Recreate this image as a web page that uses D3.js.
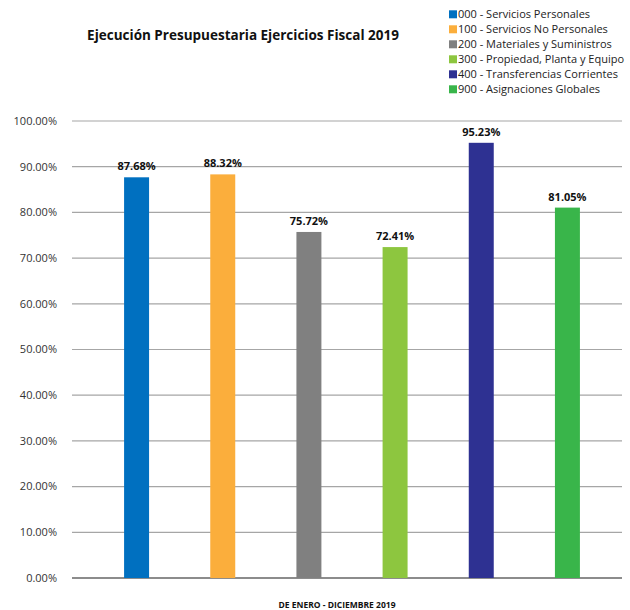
<!DOCTYPE html>
<html>
<head>
<meta charset="utf-8">
<title>Ejecución Presupuestaria</title>
<script src="https://d3js.org/d3.v7.min.js"></script>
<style>
  body { margin: 0; background: #fff; }
  text { font-family: "Open Sans", sans-serif; }
</style>
</head>
<body>
<div id="chart"></div>
<script>
// data
var categories = ["000 - Servicios Personales", "100 - Servicios No Personales", "200 - Materiales y Suministros",
                  "300 - Propiedad, Planta y Equipo", "400 - Transferencias Corrientes", "900 - Asignaciones Globales"];
var values = [87.68, 88.32, 75.72, 72.41, 95.23, 81.05];
var colors = ["#0070C0", "#FBAE3C", "#808080", "#8DC63F", "#2E3192", "#39B54A"];
var yTicks = [0, 10, 20, 30, 40, 50, 60, 70, 80, 90, 100];

var W = 630, H = 610;
var gridLeft = 72, gridRight = 622;

var svg = d3.select("#chart").append("svg")
  .attr("width", W).attr("height", H);

var x = d3.scaleBand()
  .domain(categories)
  .range([81, 623])
  .paddingInner(0.71)
  .paddingOuter(0.5);

var y = d3.scaleLinear()
  .domain([0, 100])
  .range([578, 121]);

// gridlines
svg.append("g").selectAll("line")
  .data(yTicks)
  .enter().append("line")
    .attr("x1", gridLeft).attr("x2", gridRight)
    .attr("y1", function(d) { return y(d); })
    .attr("y2", function(d) { return y(d); })
    .attr("stroke", function(d) { return d === 0 ? "#666" : "#a6a6a6"; })
    .attr("stroke-width", function(d) { return d === 0 ? 1.5 : 1.2; });

// y labels
svg.append("g").selectAll("text")
  .data(yTicks)
  .enter().append("text")
    .attr("x", 57)
    .attr("y", function(d) { return y(d); })
    .attr("dy", "0.35em")
    .attr("text-anchor", "end")
    .attr("font-size", 11)
    .attr("fill", "#333")
    .text(function(d) { return d.toFixed(2) + "%"; });

// bars
svg.append("g").selectAll("rect")
  .data(values)
  .enter().append("rect")
    .attr("x", function(d, i) { return x(categories[i]); })
    .attr("y", function(d) { return y(d); })
    .attr("width", x.bandwidth())
    .attr("height", function(d) { return y(0) - y(d); })
    .attr("fill", function(d, i) { return colors[i]; });

// value labels
svg.append("g").selectAll("text")
  .data(values)
  .enter().append("text")
    .attr("x", function(d, i) { return x(categories[i]) + x.bandwidth() / 2; })
    .attr("y", function(d) { return y(d) - 7; })
    .attr("text-anchor", "middle")
    .attr("font-size", 11)
    .attr("font-weight", "bold")
    .attr("fill", "#111")
    .text(function(d) { return d.toFixed(2) + "%"; });

// title
svg.append("text")
  .attr("x", 243).attr("y", 40)
  .attr("text-anchor", "middle")
  .attr("font-size", 13.5)
  .attr("font-weight", "bold")
  .attr("fill", "#111")
  .text("Ejecución Presupuestaria Ejercicios Fiscal 2019");

// legend
var legend = svg.append("g").selectAll("g")
  .data(categories)
  .enter().append("g")
    .attr("transform", function(d, i) { return "translate(449," + (14.3 + i * 15) + ")"; });
legend.append("rect")
  .attr("x", 0).attr("y", -4)
  .attr("width", 8).attr("height", 8)
  .attr("fill", function(d, i) { return colors[i]; });
legend.append("text")
  .attr("x", 9).attr("dy", "0.35em")
  .attr("font-size", 11)
  .attr("fill", "#222")
  .text(function(d) { return d; });

// x title
svg.append("text")
  .attr("x", 337).attr("y", 608)
  .attr("text-anchor", "middle")
  .attr("font-size", 8.5)
  .attr("font-weight", "bold")
  .attr("fill", "#111")
  .text("DE ENERO - DICIEMBRE 2019");
</script>
</body>
</html>
